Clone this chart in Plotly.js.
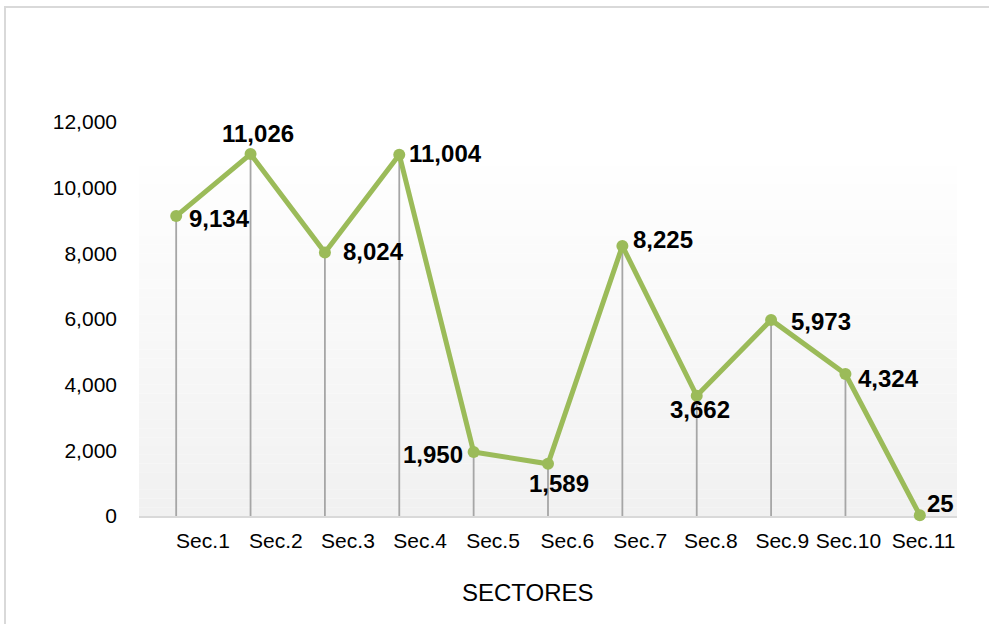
<!DOCTYPE html>
<html>
<head>
<meta charset="utf-8">
<script src="https://cdn.plot.ly/plotly-3.0.1.min.js"></script>
<style>
  html, body { margin: 0; padding: 0; background: #ffffff; overflow: hidden; }
  #chart { width: 989px; height: 624px; position: absolute; left: 0; top: 0; }
  #frame { position: absolute; left: 4px; top: 6px; width: 1000px; height: 700px;
           border: 2px solid #d9d9d9; pointer-events: none; box-sizing: border-box; }
</style>
</head>
<body>
<div id="chart"></div>
<div id="frame"></div>
<script>
const categories = ["Sec.1", "Sec.2", "Sec.3", "Sec.4", "Sec.5", "Sec.6", "Sec.7", "Sec.8", "Sec.9", "Sec.10", "Sec.11"];
const values = [9134, 11026, 8024, 11004, 1950, 1589, 8225, 3662, 5973, 4324, 25];
const yTicks = [0, 2000, 4000, 6000, 8000, 10000, 12000];
const xTitle = "SECTORES";

// style: horizontal shift of each category tick label (in category units), as in the original
const tickLabelShift = [0.36, 0.34, 0.31, 0.28, 0.26, 0.26, 0.24, 0.19, 0.15, 0.04, 0.05];
// style: pixel offsets [dx, dy(up)] of each data label from its point
const labelShift = [[43, -2], [7, 20], [49, 1], [46, 1], [-41, -3], [11, -20],
                    [41, 6], [3, -14], [50, -2], [43, -4], [21, 12]];

const FONT = "Liberation Sans, Arial, sans-serif";

// background gradient bands (white at top -> light grey at bottom), plot area top below 12,000
const shapes = [];
const nBands = 40;
const bgTop = 0.888;
for (let i = 0; i < nBands; i++) {
  const t = i / (nBands - 1);
  const c = Math.round(241 + (254 - 241) * t);
  shapes.push({
    type: "rect", xref: "paper", yref: "paper", layer: "below",
    x0: 0, x1: 1, y0: bgTop * i / nBands, y1: bgTop * (i + 1) / nBands,
    fillcolor: `rgb(${c},${c},${c})`, line: { width: 0 }
  });
}
// drop lines from each point to the axis
categories.forEach((c, i) => {
  shapes.push({
    type: "line", xref: "x", yref: "y", layer: "below",
    x0: c, x1: c, y0: 0, y1: values[i],
    line: { color: "#a6a6a6", width: 1.8 }
  });
});

// data labels
const annotations = categories.map((c, i) => ({
  x: c, y: values[i], xref: "x", yref: "y",
  text: "<b>" + values[i].toLocaleString("en-US") + "</b>",
  showarrow: false,
  xanchor: "center", yanchor: "middle",
  xshift: labelShift[i][0], yshift: labelShift[i][1],
  font: { family: FONT, size: 24, color: "#000000" }
}));
// x axis title
annotations.push({
  text: xTitle, xref: "paper", yref: "paper",
  x: 0.4756, y: -0.195, xanchor: "center", yanchor: "middle",
  showarrow: false, font: { family: FONT, size: 24, color: "#000000" }
});

const trace = {
  x: categories,
  y: values,
  type: "scatter",
  mode: "lines+markers",
  line: { color: "#9bbb59", width: 5 },
  marker: { color: "#9bbb59", size: 12 },
  cliponaxis: false,
  hoverinfo: "x+y"
};

const layout = {
  width: 989, height: 624,
  margin: { l: 139, r: 32, t: 122, b: 108 },
  paper_bgcolor: "#ffffff",
  plot_bgcolor: "rgba(0,0,0,0)",
  showlegend: false,
  font: { family: FONT, color: "#000000" },
  xaxis: {
    type: "category",
    range: [-0.5, 10.5],
    showgrid: false,
    zeroline: false,
    showline: true,
    linecolor: "#d9d9d9",
    linewidth: 2,
    layer: "below traces",
    ticks: "",
    showticklabels: false,
    fixedrange: true
  },
  xaxis2: {
    overlaying: "x",
    anchor: "y",
    side: "bottom",
    type: "linear",
    range: [-0.5, 10.5],
    tickvals: categories.map((c, i) => i + tickLabelShift[i]),
    ticktext: categories,
    showgrid: false,
    zeroline: false,
    showline: false,
    ticks: "",
    tickfont: { size: 21, color: "#000000" },
    ticklabelstandoff: 10,
    fixedrange: true
  },
  yaxis: {
    range: [0, 12000],
    tickvals: yTicks,
    ticktext: yTicks.map(v => v.toLocaleString("en-US")),
    showgrid: false,
    zeroline: false,
    showline: false,
    ticks: "",
    tickfont: { size: 21, color: "#000000" },
    ticklabelstandoff: 21,
    fixedrange: true
  },
  shapes: shapes,
  annotations: annotations
};

const trace2 = { x: [0], y: [0], xaxis: "x2", yaxis: "y", mode: "markers",
                 marker: { opacity: 0 }, hoverinfo: "skip", showlegend: false };

Plotly.newPlot("chart", [trace, trace2], layout, { displayModeBar: false, staticPlot: true });
</script>
</body>
</html>
